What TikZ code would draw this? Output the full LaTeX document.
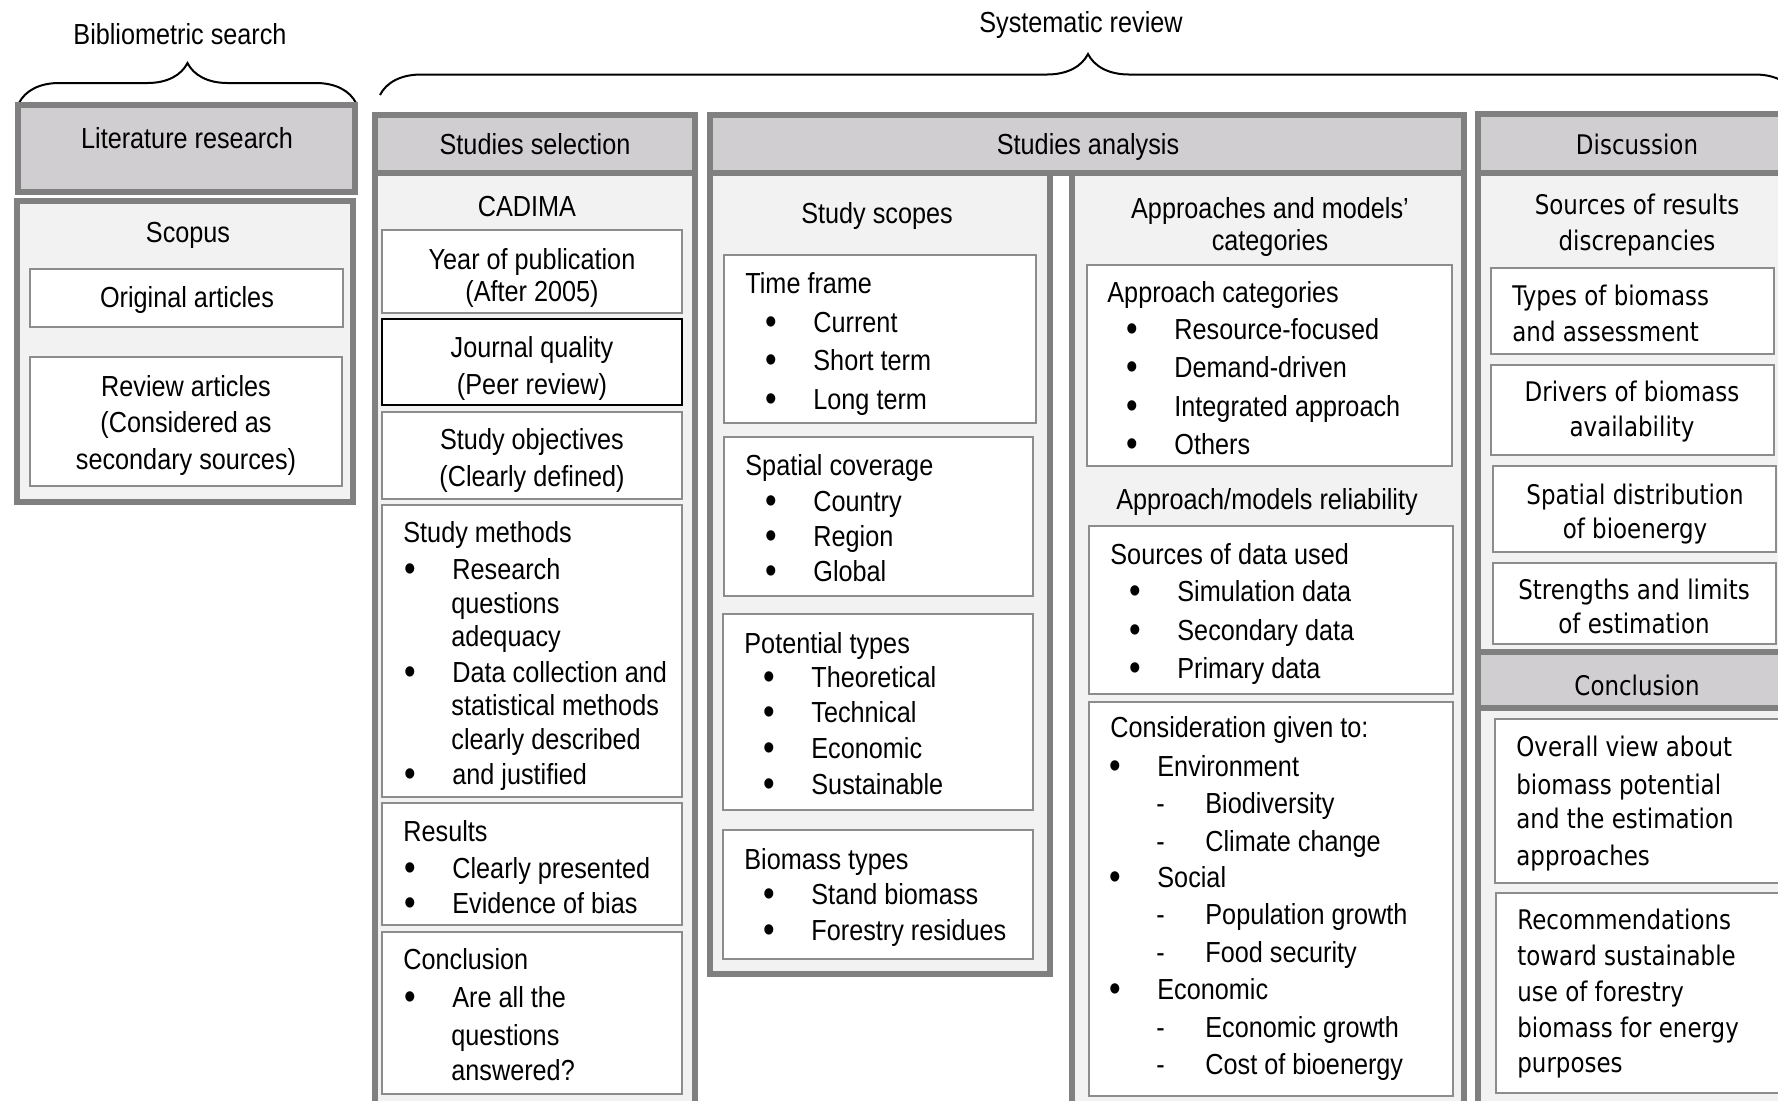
\documentclass[tikz,border=0pt]{standalone}
\usepackage{fontspec}
\setmainfont{Liberation Sans}[FakeStretch=0.87]
\newfontfamily\discfont{DejaVu Sans}[FakeStretch=0.85]
\usetikzlibrary{decorations.pathreplacing}

\definecolor{framegray}{RGB}{128,128,128}
\definecolor{headgray}{RGB}{208,206,208}
\definecolor{bodygray}{RGB}{242,242,242}
\definecolor{thingray}{RGB}{140,140,140}

\newcommand{\bul}{\makebox[23.5pt][l]{\hspace*{-0.6pt}\raisebox{-1.3pt}{\fontsize{19}{19}\selectfont\textbullet}}}
\newcommand{\dsh}{\makebox[24.5pt][l]{-}}

\tikzset{
	frame/.style={draw=framegray, line width=3pt},
	headbox/.style={frame, fill=headgray},
	bodybox/.style={frame, fill=bodygray},
	itembox/.style={draw=thingray, line width=1pt, fill=white},
	txt/.style={anchor=base west, inner sep=0pt, font=\fontsize{14.5}{17}\selectfont},
	ctxt/.style={anchor=base, inner sep=0pt, font=\fontsize{14.5}{17}\selectfont},
	dtxt/.style={anchor=base west, inner sep=0pt, font=\discfont\fontsize{13.5}{16}\selectfont},
	dctxt/.style={anchor=base, inner sep=0pt, font=\discfont\fontsize{13.5}{16}\selectfont},
	bracket/.style={decorate, decoration={brace, amplitude=20pt}, line width=1pt},
}

\begin{document}
\begin{tikzpicture}[x=0.5pt, y=-0.5pt]
			%%%%% START %%%%%
			\useasboundingbox (0,0) rectangle (1778,1100);
			\clip (0,0) rectangle (1778,1100);
			
			\node[ctxt] (bibsearch) at (180,44) {Bibliometric search};
			\node[ctxt] (sysreview) at (1081,32) {Systematic review};
			\coordinate (bibL) at (19,103);
			\coordinate (bibR) at (356,103);
			\coordinate (sysL) at (380,95);
			\coordinate (sysR) at (1796,95);
			\draw[bracket] (bibL) -- (bibR);
			\draw[bracket, decoration={amplitude=20.5pt}] (sysL) -- (sysR);
			
			%%%%% literature research
			\draw[headbox] (18,105) rectangle (355,192);
			\draw[bodybox] (17,201) rectangle (353,502);
			\draw[itembox] (30,269) rectangle (343,327);
			\draw[itembox] (30,357) rectangle (342,486);
			\node[ctxt] (litres) at (187,148) {Literature research};
			\node[ctxt] (scopus) at (188,242) {Scopus};
			\node[ctxt] (origart) at (187,307) {Original articles};
			\node[ctxt] (revart1) at (186,396) {Review articles};
			\node[ctxt] (revart2) at (186,432) {(Considered as};
			\node[ctxt] (revart3) at (186,469) {secondary sources)};
			
			%%%%% studies selection
			\draw[headbox] (375,115) rectangle (695,173);
			\draw[bodybox] (375,173) rectangle (695,1120);
			\draw[itembox] (382,230) rectangle (682,313);
			\draw[itembox, draw=black, line width=1.2pt] (382,319) rectangle (682,405);
			\draw[itembox] (382,412) rectangle (682,499);
			\draw[itembox] (382,505) rectangle (682,797);
			\draw[itembox] (382,803) rectangle (682,925);
			\draw[itembox] (382,932) rectangle (682,1094);
			
			\node[ctxt] (selhead) at (535,154) {Studies selection};
			\node[ctxt] (cadima) at (527,216) {CADIMA};
			\node[ctxt] (year1) at (532,269) {Year of publication};
			\node[ctxt] (year2) at (532,301) {(After 2005)};
			\node[ctxt] (journal1) at (532,357) {Journal quality};
			\node[ctxt] (journal2) at (532,394) {(Peer review)};
			\node[ctxt] (object1) at (532,449) {Study objectives};
			\node[ctxt] (object2) at (532,486) {(Clearly defined)};
			
			\node[txt] (meth) at (403,542) {Study methods};
			\node[txt] (meth1) at (405,579) {\bul Research};
			\node[txt] (meth2) at (451,613) {questions};
			\node[txt] (meth3) at (451,646) {adequacy};
			\node[txt] (meth4) at (405,682) {\bul Data collection and};
			\node[txt] (meth5) at (451,715) {statistical methods};
			\node[txt] (meth6) at (451,749) {clearly described};
			\node[txt] (meth7) at (405,784) {\bul and justified};
			
			\node[txt] (res) at (403,841) {Results};
			\node[txt] (res1) at (405,878) {\bul Clearly presented};
			\node[txt] (res2) at (405,913) {\bul Evidence of bias};
			
			\node[txt] (concl) at (403,969) {Conclusion};
			\node[txt] (concl1) at (405,1007) {\bul Are all the};
			\node[txt] (concl2) at (451,1045) {questions};
			\node[txt] (concl3) at (451,1080) {answered?};
			
			%%%%% studies analysis
			\draw[headbox] (710,115) rectangle (1464,173);
			\draw[bodybox] (710,173) rectangle (1050,974);
			\draw[bodybox] (1072,173) rectangle (1464,1120);
			\draw[itembox] (724,255) rectangle (1036,423);
			\draw[itembox] (724,437) rectangle (1033,596);
			\draw[itembox] (723,614) rectangle (1033,810);
			\draw[itembox] (723,830) rectangle (1033,959);
			\draw[itembox] (1087,265) rectangle (1452,466);
			\draw[itembox] (1089,526) rectangle (1453,694);
			\draw[itembox] (1089,702) rectangle (1453,1096);
			
			\node[ctxt] (anahead) at (1088,154) {Studies analysis};
			\node[ctxt] (scopes) at (877,223) {Study scopes};
			
			\node[txt] (time) at (745,293) {Time frame};
			\node[txt] (time1) at (766,332) {\bul Current};
			\node[txt] (time2) at (766,370) {\bul Short term};
			\node[txt] (time3) at (766,409) {\bul Long term};
			
			\node[txt] (space) at (745,475) {Spatial coverage};
			\node[txt] (space1) at (766,511) {\bul Country};
			\node[txt] (space2) at (766,546) {\bul Region};
			\node[txt] (space3) at (766,581) {\bul Global};
			
			\node[txt] (pot) at (744,653) {Potential types};
			\node[txt] (pot1) at (764,687) {\bul Theoretical};
			\node[txt] (pot2) at (764,722) {\bul Technical};
			\node[txt] (pot3) at (764,758) {\bul Economic};
			\node[txt] (pot4) at (764,794) {\bul Sustainable};
			
			\node[txt] (bio) at (744,869) {Biomass types};
			\node[txt] (bio1) at (764,904) {\bul Stand biomass};
			\node[txt] (bio2) at (764,940) {\bul Forestry residues};
			
			\node[ctxt] (appmod1) at (1270,218) {Approaches and models’};
			\node[ctxt] (appmod2) at (1270,250) {categories};
			
			\node[txt] (appcat) at (1107,302) {Approach categories};
			\node[txt] (appcat1) at (1127,339) {\bul Resource-focused};
			\node[txt] (appcat2) at (1127,377) {\bul Demand-driven};
			\node[txt] (appcat3) at (1127,416) {\bul Integrated approach};
			\node[txt] (appcat4) at (1127,454) {\bul Others};
			
			\node[ctxt] (reliab) at (1267,509) {Approach/models reliability};
			
			\node[txt] (data) at (1110,564) {Sources of data used};
			\node[txt] (data1) at (1130,601) {\bul Simulation data};
			\node[txt] (data2) at (1130,640) {\bul Secondary data};
			\node[txt] (data3) at (1130,678) {\bul Primary data};
			
			\node[txt] (consid) at (1110,737) {Consideration given to:};
			\node[txt] (env) at (1110,776) {\bul Environment};
			\node[txt] (env1) at (1156,813) {\dsh Biodiversity};
			\node[txt] (env2) at (1156,851) {\dsh Climate change};
			\node[txt] (soc) at (1110,887) {\bul Social};
			\node[txt] (soc1) at (1156,924) {\dsh Population growth};
			\node[txt] (soc2) at (1156,962) {\dsh Food security};
			\node[txt] (eco) at (1110,999) {\bul Economic};
			\node[txt] (eco1) at (1156,1037) {\dsh Economic growth};
			\node[txt] (eco2) at (1156,1074) {\dsh Cost of bioenergy};
			
			%%%%% discussion and conclusion
			\draw[headbox] (1478,114) rectangle (1800,173);
			\draw[bodybox] (1478,173) rectangle (1800,652);
			\draw[headbox] (1478,652) rectangle (1800,708);
			\draw[bodybox] (1478,708) rectangle (1800,1120);
			\draw[itembox] (1491,268) rectangle (1774,354);
			\draw[itembox] (1491,365) rectangle (1774,455);
			\draw[itembox] (1493,466) rectangle (1776,552);
			\draw[itembox] (1493,563) rectangle (1776,644);
			\draw[itembox] (1495,719) rectangle (1790,883);
			\draw[itembox] (1496,893) rectangle (1790,1093);
			
			\node[dctxt] (dishead) at (1637,154) {Discussion};
			\node[dctxt] (disc1) at (1637,214) {Sources of results};
			\node[dctxt] (disc2) at (1637,250) {discrepancies};
			\node[dtxt] (types1) at (1512,305) {Types of biomass};
			\node[dtxt] (types2) at (1512,341) {and assessment};
			\node[dctxt] (drive1) at (1632,401) {Drivers of biomass};
			\node[dctxt] (drive2) at (1632,436) {availability};
			\node[dctxt] (distr1) at (1635,504) {Spatial distribution};
			\node[dctxt] (distr2) at (1635,538) {of bioenergy};
			\node[dctxt] (limit1) at (1634,599) {Strengths and limits};
			\node[dctxt] (limit2) at (1634,633) {of estimation};
			
			\node[dctxt] (conhead) at (1637,695) {Conclusion};
			\node[dtxt] (view1) at (1516,756) {Overall view about};
			\node[dtxt] (view2) at (1516,794) {biomass potential};
			\node[dtxt] (view3) at (1516,828) {and the estimation};
			\node[dtxt] (view4) at (1516,865) {approaches};
			\node[dtxt] (recom1) at (1517,929) {Recommendations};
			\node[dtxt] (recom2) at (1517,965) {toward sustainable};
			\node[dtxt] (recom3) at (1517,1001) {use of forestry};
			\node[dtxt] (recom4) at (1517,1037) {biomass for energy};
			\node[dtxt] (recom5) at (1517,1072) {purposes};
			%%%%% END %%%%%
\end{tikzpicture}
\end{document}
